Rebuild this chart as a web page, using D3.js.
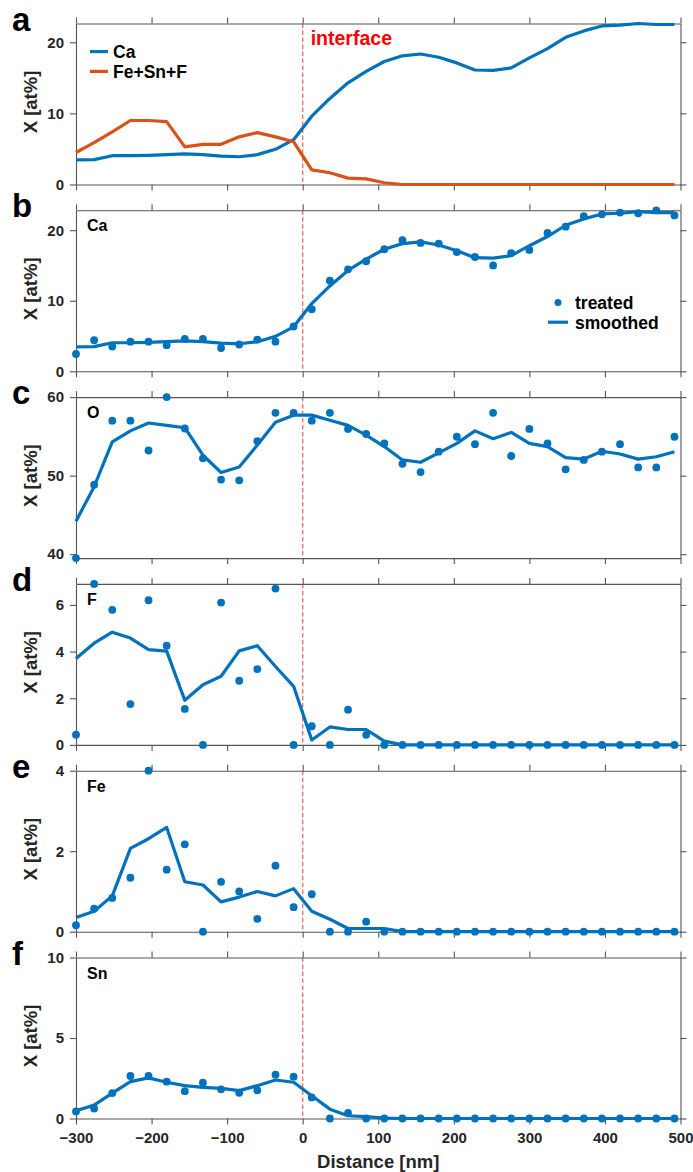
<!DOCTYPE html>
<html>
<head>
<meta charset="utf-8">
<script src="https://cdn.jsdelivr.net/npm/d3@7"></script>
<style>
  html, body { margin: 0; padding: 0; background: #fff; }
  svg { display: block; font-family: "Liberation Sans", Arial, Helvetica, sans-serif; }
  .tick text { font-weight: bold; fill: #262626; }
</style>
</head>
<body>
<svg id="chart" width="693" height="1172"></svg>
<script>
// Sampling positions along the depth profile [nm]
const distance = [-300,-276,-252,-228,-204,-180,-156,-132,-108,-84,-60,-36,-12,12,36,60,84,108,
                  132,156,180,204,228,252,276,300,324,348,372,396,420,444,468,492];

// Calcium [at%]
const caTreated  = [2.45,4.4,3.5,4.2,4.2,3.7,4.6,4.6,3.3,3.8,4.5,4.2,6.35,8.8,12.85,14.45,15.6,17.3,
                    18.6,18.2,18.1,16.9,16.2,15.0,16.75,17.2,19.6,20.5,22.0,22.25,22.5,22.4,22.82,22.1];
const caSmoothed = [3.45,3.5,4.05,4.05,4.1,4.2,4.3,4.2,4.0,3.9,4.2,4.95,6.3,9.6,12.1,14.3,15.9,17.3,
                    18.1,18.35,17.9,17.1,16.1,16.05,16.4,17.8,19.1,20.7,21.6,22.3,22.4,22.64,22.5,22.5];
// Fe + Sn + F, smoothed [at%]
const feSnF      = [4.5,5.9,7.4,9.0,9.0,8.85,5.3,5.65,5.65,6.7,7.3,6.7,6.0,2.05,1.65,0.9,0.8,0.25,
                    0,0,0,0,0,0,0,0,0,0,0,0,0,0,0,0];
// Oxygen [at%]
const oTreated   = [39.5,48.85,57,57,53.2,60,56,52.2,49.5,49.4,54.4,58,58,57,58,55.95,55.3,54.1,
                    51.5,50.45,53.05,54.95,54,58,52.5,55.95,54.1,50.8,52,53.05,54,51.05,51.05,54.95];
const oSmoothed  = [44.2,48.6,54.3,55.7,56.7,56.4,56.1,52.6,50.4,51.1,53.9,56.8,57.7,57.7,57.05,56.4,55.15,53.7,
                    52,51.7,52.9,54.1,55.7,54.7,55.5,54.1,53.7,52.3,52.1,53.1,52.75,52.1,52.4,53.05];
// Fluorine [at%]
const fTreated   = [0.44,6.9,5.79,1.75,6.2,4.25,1.54,0,6.1,2.75,3.25,6.7,0,0.8,0,1.51,0.43,0,
                    0,0,0,0,0,0,0,0,0,0,0,0,0,0,0,0];
const fSmoothed  = [3.7,4.36,4.83,4.58,4.08,4.02,1.91,2.58,2.94,4.03,4.25,3.36,2.51,0.21,0.77,0.66,0.66,0.16,
                    0,0,0,0,0,0,0,0,0,0,0,0,0,0,0,0];
// Iron [at%]
const feTreated  = [0.16,0.57,0.84,1.34,4.0,1.54,2.17,0,1.24,1.0,0.32,1.64,0.61,0.93,0,0,0.25,0,
                    0,0,0,0,0,0,0,0,0,0,0,0,0,0,0,0];
const feSmoothed = [0.35,0.51,0.89,2.07,2.31,2.59,1.24,1.16,0.74,0.86,1.0,0.89,1.07,0.51,0.31,0.08,0.08,0.08,
                    0,0,0,0,0,0,0,0,0,0,0,0,0,0,0,0];
// Tin [at%]
const snTreated  = [0.44,0.62,1.58,2.64,2.64,2.29,1.7,2.22,1.81,1.6,1.75,2.72,2.6,1.31,0,0.35,0,0,
                    0,0,0,0,0,0,0,0,0,0,0,0,0,0,0,0];
const snSmoothed = [0.48,0.83,1.58,2.29,2.52,2.25,2.04,1.93,1.87,1.73,2.04,2.39,2.25,1.41,0.58,0.17,0.12,0.02,
                    0,0,0,0,0,0,0,0,0,0,0,0,0,0,0,0];

// Axis ticks
const xTicks = [-300,-200,-100,0,100,200,300,400,500];
const panelLetters = ["a","b","c","d","e","f"];
const elementNames = [null,"Ca","O","F","Fe","Sn"];
const yTickSets = [[0,10,20],[0,10,20],[40,50,60],[0,2,4,6],[0,2,4],[0,5,10]];
const interfaceAt = 0;

const BLUE = "#0072BD", ORANGE = "#D95319", RED = "#FF0000", DASH = "#F07470";
const AXIS = "#555";

const svg = d3.select("#chart");
const plotLeft = 76, plotRight = 680.5;
const top0 = 23.5, step = 186.8, plotH = 161;
const tickFmt = d3.format("~g");

const x = d3.scaleLinear().domain([-300, 500]).range([plotLeft, plotRight]);

const panels = [
  { lines: [{v: caSmoothed, c: BLUE}, {v: feSnF, c: ORANGE}], dots: null, domain: [0, d3.max(caSmoothed.concat(feSnF))] },
  { lines: [{v: caSmoothed, c: BLUE}], dots: caTreated, domain: [0, d3.max(caTreated.concat(caSmoothed))] },
  { lines: [{v: oSmoothed, c: BLUE}], dots: oTreated, domain: d3.extent(oTreated.concat(oSmoothed)) },
  { lines: [{v: fSmoothed, c: BLUE}], dots: fTreated, domain: [0, d3.max(fTreated)] },
  { lines: [{v: feSmoothed, c: BLUE}], dots: feTreated, domain: [0, d3.max(feTreated)] },
  { lines: [{v: snSmoothed, c: BLUE}], dots: snTreated, domain: [0, 10] }
];

function styleAxis(g) {
  g.selectAll(".domain").attr("stroke", AXIS).attr("stroke-width", 1.1);
  g.selectAll(".tick line").attr("stroke", AXIS).attr("stroke-width", 1.1);
  g.selectAll(".tick text").attr("font-size", 15);
}

panels.forEach((p, i) => {
  const yTop = top0 + i * step;
  const yBot = yTop + plotH;
  const y = d3.scaleLinear().domain(p.domain).range([yBot, yTop]);
  const g = svg.append("g");

  // interface marker
  g.append("line")
    .attr("x1", x(interfaceAt)).attr("x2", x(interfaceAt))
    .attr("y1", yTop).attr("y2", yBot)
    .attr("stroke", DASH).attr("stroke-width", 1.4)
    .attr("stroke-dasharray", "4.5,2.5");

  // axes: outward ticks on all four sides
  g.append("g").attr("transform", `translate(${plotLeft},0)`)
    .call(d3.axisLeft(y).tickValues(yTickSets[i]).tickFormat(tickFmt).tickSize(6).tickPadding(6).tickSizeOuter(0))
    .call(styleAxis);
  g.append("g").attr("transform", `translate(${plotRight},0)`)
    .call(d3.axisRight(y).tickValues(yTickSets[i]).tickSize(6).tickFormat("").tickSizeOuter(0))
    .call(styleAxis);
  g.append("g").attr("transform", `translate(0,${yTop})`)
    .call(d3.axisTop(x).tickValues(xTicks).tickSize(6).tickFormat("").tickSizeOuter(0))
    .call(styleAxis);
  const bottom = d3.axisBottom(x).tickValues(xTicks).tickSize(6).tickPadding(8).tickSizeOuter(0)
    .tickFormat(i < panels.length - 1 ? "" : tickFmt);
  g.append("g").attr("transform", `translate(0,${yBot})`)
    .call(bottom).call(styleAxis);

  // smoothed profiles
  const line = d3.line().x((d, k) => x(distance[k])).y(d => y(d));
  p.lines.forEach(l => {
    g.append("path").datum(l.v)
      .attr("d", line)
      .attr("fill", "none")
      .attr("stroke", l.c)
      .attr("stroke-width", 3.2)
      .attr("stroke-linejoin", "round");
  });

  // treated measurements
  if (p.dots) {
    g.selectAll("circle.pt").data(p.dots).enter().append("circle")
      .attr("class", "pt")
      .attr("cx", (d, k) => x(distance[k]))
      .attr("cy", d => y(d))
      .attr("r", 3.9)
      .attr("fill", BLUE);
  }

  // panel letter
  svg.append("text")
    .attr("x", 12).attr("y", yTop + 7)
    .attr("font-size", 33).attr("font-weight", "bold").attr("fill", "#000")
    .text(panelLetters[i]);

  // y-axis label
  svg.append("text")
    .attr("transform", `translate(31,${(yTop + yBot) / 2 - 2}) rotate(-90)`)
    .attr("text-anchor", "middle").attr("dy", "0.35em")
    .attr("font-size", 18.5).attr("font-weight", "bold").attr("fill", "#262626")
    .text("X [at%]");

  if (elementNames[i]) {
    svg.append("text")
      .attr("x", 87).attr("y", yTop + 21)
      .attr("font-size", 16).attr("font-weight", "bold").attr("fill", "#000")
      .text(elementNames[i]);
  }

  if (i === 0) {
    svg.append("text")
      .attr("x", x(interfaceAt) + 8).attr("y", yTop + 21.5)
      .attr("font-size", 19.5).attr("font-weight", "bold").attr("fill", RED)
      .text("interface");
    const legend = [{name: "Ca", c: BLUE}, {name: "Fe+Sn+F", c: ORANGE}];
    legend.forEach((e, j) => {
      const ly = 51.6 + j * 19.8;
      svg.append("line").attr("x1", 90).attr("x2", 108).attr("y1", ly).attr("y2", ly)
        .attr("stroke", e.c).attr("stroke-width", 3.2);
      svg.append("text").attr("x", 113).attr("y", ly).attr("dy", "0.36em")
        .attr("font-size", 17.5).attr("font-weight", "bold").attr("fill", "#000")
        .text(e.name);
    });
  }
  if (i === 1) {
    const legend = [{name: "treated", kind: "dot"}, {name: "smoothed", kind: "line"}];
    legend.forEach((e, j) => {
      const ly = 302.4 + j * 19.8;
      if (e.kind === "dot") {
        svg.append("circle").attr("cx", 558).attr("cy", ly).attr("r", 3.5).attr("fill", BLUE);
      } else {
        svg.append("line").attr("x1", 548).attr("x2", 568).attr("y1", ly).attr("y2", ly)
          .attr("stroke", BLUE).attr("stroke-width", 3.2);
      }
      svg.append("text").attr("x", 575).attr("y", ly).attr("dy", "0.36em")
        .attr("font-size", 17.5).attr("font-weight", "bold").attr("fill", "#000").text(e.name);
    });
  }
});

// x-axis title
svg.append("text")
  .attr("x", (plotLeft + plotRight) / 2).attr("y", 1168)
  .attr("text-anchor", "middle")
  .attr("font-size", 18.5).attr("font-weight", "bold").attr("fill", "#262626")
  .text("Distance [nm]");
</script>
</body>
</html>
